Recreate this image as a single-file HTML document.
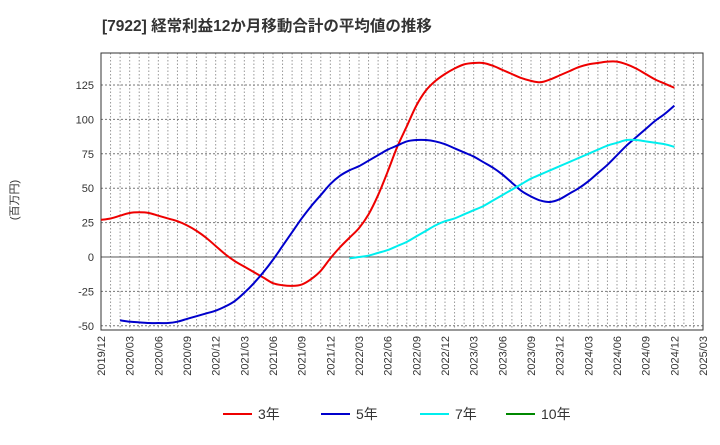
<!DOCTYPE html>
<html><head><meta charset="utf-8"><style>
body{margin:0;background:#fff;font-family:"Liberation Sans","Noto Sans CJK JP",sans-serif}
svg text{font-family:"Liberation Sans","Noto Sans CJK JP",sans-serif}
</style></head><body>
<svg id="c" width="720" height="440" xmlns="http://www.w3.org/2000/svg">
<text x="102" y="31" font-size="15.5" font-weight="bold" fill="#333">[7922]  経常利益12か月移動合計の平均値の推移</text>
<text transform="translate(18,200) rotate(-90)" font-size="11" fill="#333" text-anchor="middle">(百万円)</text>
<g id="grid"></g><g id="axes"></g><g id="series"></g><g id="legend"></g>
</svg>
<script>
const xTickLabels=["2019/12","2020/03","2020/06","2020/09","2020/12","2021/03","2021/06","2021/09","2021/12","2022/03","2022/06","2022/09","2022/12","2023/03","2023/06","2023/09","2023/12","2024/03","2024/06","2024/09","2024/12","2025/03"];
const yTicks=[-50,-25,0,25,50,75,100,125];
const s3Start=0;
const s3=[27,28,30,32,32.5,32,30,28,26,23,19,14,8,2,-3,-7,-11,-15,-19,-20.5,-21,-20,-16,-10,-1,7,14,21,31,45,62,80,95,110,121,128,133,137,140,141,141,139,136,133,130,128,127,129,132,135,138,140,141,142,142,140,137,133,129,126,123];
const s5Start=2;
const s5=[-46,-47,-47.5,-48,-48,-48,-47,-45,-43,-41,-39,-36,-32,-26,-19,-11,-2,8,18,28,37,45,53,59,63,66,70,74,78,81,84,85,85,84,82,79,76,73,69,65,60,54,48,44,41,40,42,46,50,55,61,67,74,81,87,93,99,104,110];
const s7Start=26;
const s7=[-1,0,1,3,5,8,11,15,19,23,26,28,31,34,37,41,45,49,53,57,60,63,66,69,72,75,78,81,83,85,85,84,83,82,80];
const seriesNames=["3年","5年","7年","10年"];
const seriesColors=["#e00","#00c","#0ee","#080"];

const L=101,R=703,T=53,B=330;
const xs=m=>L+(R-L)*m/63;
const ys=v=>257-v*(257-85)/125;
const NS="http://www.w3.org/2000/svg";
function mk(tag,attrs,parent){const e=document.createElementNS(NS,tag);for(const k in attrs)e.setAttribute(k,attrs[k]);document.getElementById(parent).appendChild(e);return e;}
for(let m=1;m<63;m++){const l=mk('line',{x1:xs(m),x2:xs(m),y1:T,y2:B,stroke:'#999','stroke-dasharray':'1.5,2','stroke-width':1},'grid');

}
yTicks.forEach(v=>{const y=ys(v);
const l=mk('line',{x1:L,x2:R,y1:y,y2:y,stroke:v===0?'#555':'#777','stroke-dasharray':v===0?'':'2,2','stroke-width':1},'grid');


const t=mk('text',{x:L-7,y:y+4,'text-anchor':'end','font-size':11,fill:'#333'},'axes');t.textContent=v;

});
const fr=mk('rect',{x:L,y:T,width:R-L,height:B-T,fill:'none',stroke:'#333','stroke-width':1},'axes');


xTickLabels.forEach((s,i)=>{const x=xs(i*3);
const t=mk('text',{transform:`translate(${x+4},336) rotate(-90)`,'text-anchor':'end','font-size':11,fill:'#333'},'axes');t.textContent=s;

});
function path(start,vals){const p=vals.map((v,i)=>[xs(start+i),ys(v)]);let d=`M${p[0][0]},${p[0][1]}`;
for(let i=0;i<p.length-1;i++){const p0=p[i-1]||p[i],p1=p[i],p2=p[i+1],p3=p[i+2]||p2;
d+=` C${p1[0]+(p2[0]-p0[0])/6},${p1[1]+(p2[1]-p0[1])/6} ${p2[0]-(p3[0]-p1[0])/6},${p2[1]-(p3[1]-p1[1])/6} ${p2[0]},${p2[1]}`;}return d;}
[[s3Start,s3,0,'series-3yr'],[s5Start,s5,1,'series-5yr'],[s7Start,s7,2,'series-7yr']].forEach(([st,v,ci,n])=>{
const p=mk('path',{d:path(st,v),fill:'none',stroke:seriesColors[ci],'stroke-width':2},'series');

});
const lx=[223,321,420,506];
seriesNames.forEach((n,i)=>{const l=mk('line',{x1:lx[i],x2:lx[i]+29,y1:414,y2:414,stroke:seriesColors[i],'stroke-width':2},'legend');


const t=mk('text',{x:lx[i]+35,y:419,'font-size':14,fill:'#333'},'legend');t.textContent=n;

});
</script>
</body></html>
